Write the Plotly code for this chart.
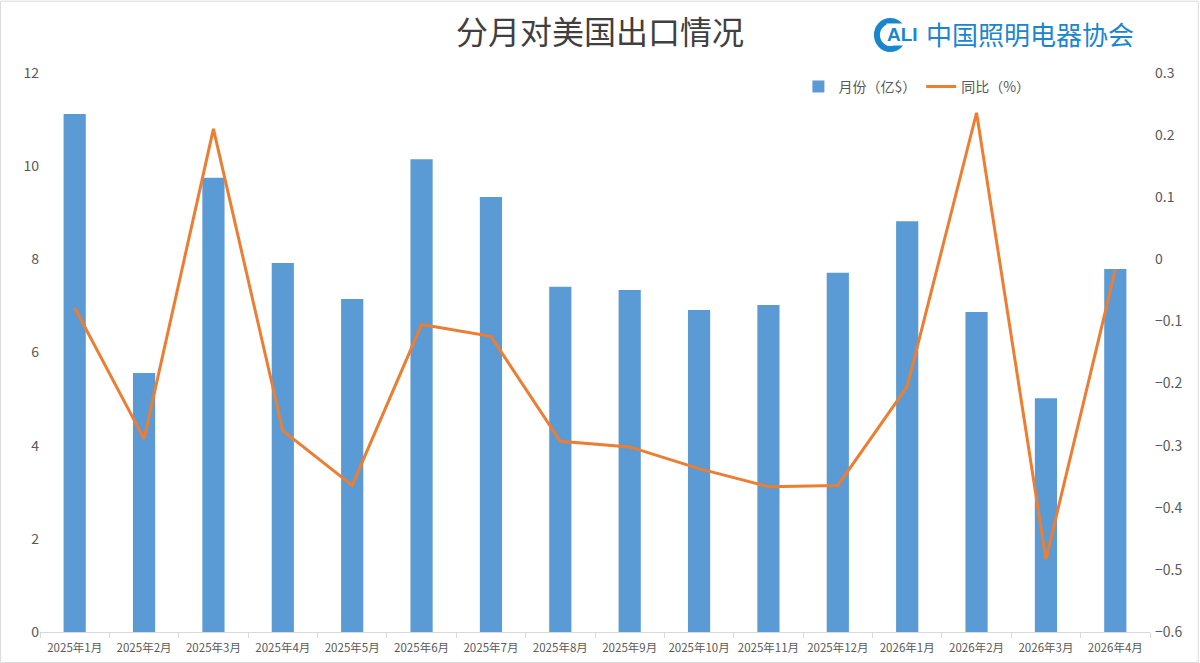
import plotly.graph_objects as go

months = ["2025年1月", "2025年2月", "2025年3月", "2025年4月", "2025年5月", "2025年6月",
          "2025年7月", "2025年8月", "2025年9月", "2025年10月", "2025年11月", "2025年12月",
          "2026年1月", "2026年2月", "2026年3月", "2026年4月"]
export_value = [11.12, 5.56, 9.75, 7.92, 7.15, 10.15, 9.34, 7.41, 7.34, 6.91, 7.02, 7.71,
                8.82, 6.87, 5.02, 7.79]
yoy = [-0.078, -0.289, 0.21, -0.276, -0.364, -0.105, -0.124, -0.293, -0.302, -0.337,
       -0.366, -0.364, -0.205, 0.236, -0.483, -0.017]

FONT = "Noto Sans CJK SC, Noto Sans, sans-serif"
fig = go.Figure()
fig.add_trace(go.Bar(x=months, y=export_value, name="月份（亿$）",
                     marker=dict(color="#5B9BD5", line=dict(width=0)), yaxis="y"))
fig.add_trace(go.Scatter(x=months, y=yoy, name="同比（%）", mode="lines",
                         line=dict(color="#ED7D31", width=3), yaxis="y2"))

fig.update_layout(
    width=1200, height=663,
    margin=dict(l=40, r=50, t=73, b=31),
    paper_bgcolor="white", plot_bgcolor="white",
    bargap=0.68,
    font=dict(family=FONT, color="#595959"),
    title=dict(text="分月对美国出口情况", x=0.5, xanchor="center", y=0.95, yanchor="middle",
               font=dict(size=32, color="#404040", family=FONT)),
    xaxis=dict(tickfont=dict(size=11.5, color="#595959"), showline=True, linecolor="#D9D9D9",
               ticks="outside", tickson="boundaries", ticklen=5, tickcolor="#D9D9D9",
               showgrid=False, range=[-0.5, 15.5], tickangle=0, automargin=False,
               ticklabelstandoff=5),
    yaxis=dict(range=[0, 12], dtick=2, showgrid=False, zeroline=False, automargin=False,
               tickfont=dict(size=14, color="#595959"), ticklabelstandoff=0),
    yaxis2=dict(range=[-0.6, 0.3], dtick=0.1, overlaying="y", side="right", showgrid=False,
                zeroline=False, automargin=False, tickfont=dict(size=14, color="#595959"),
                tickformat=".1~f", ticklabelstandoff=4),
    legend=dict(orientation="h", x=0.79, xanchor="center", y=0.975, yanchor="middle",
                font=dict(size=14, color="#595959"), bgcolor="rgba(0,0,0,0)",
                traceorder="normal"),
    shapes=[
        dict(type="rect", xref="paper", yref="paper", x0=-0.0355, x1=1.0435, y0=-0.0545, y1=1.1285,
             line=dict(color="#D9D9D9", width=1)),
        dict(type="circle", xref="paper", yref="paper", x0=0.754, x1=0.778, y0=1.043, y1=1.093,
             line=dict(color="#1A86CF", width=6)),
    ],
    annotations=[
        dict(text="<b>ALI</b>", xref="paper", yref="paper", x=0.777, y=1.068, xanchor="center",
             yanchor="middle", showarrow=False, bgcolor="white", borderpad=0,
             font=dict(size=19, color="#1A86CF", family="Liberation Sans")),
        dict(text="中国照明电器协会", xref="paper", yref="paper", x=0.796, y=1.07, xanchor="left",
             yanchor="middle", showarrow=False, font=dict(size=26, color="#1A86CF", family=FONT)),
    ],
)
fig.write_html("out.html")
